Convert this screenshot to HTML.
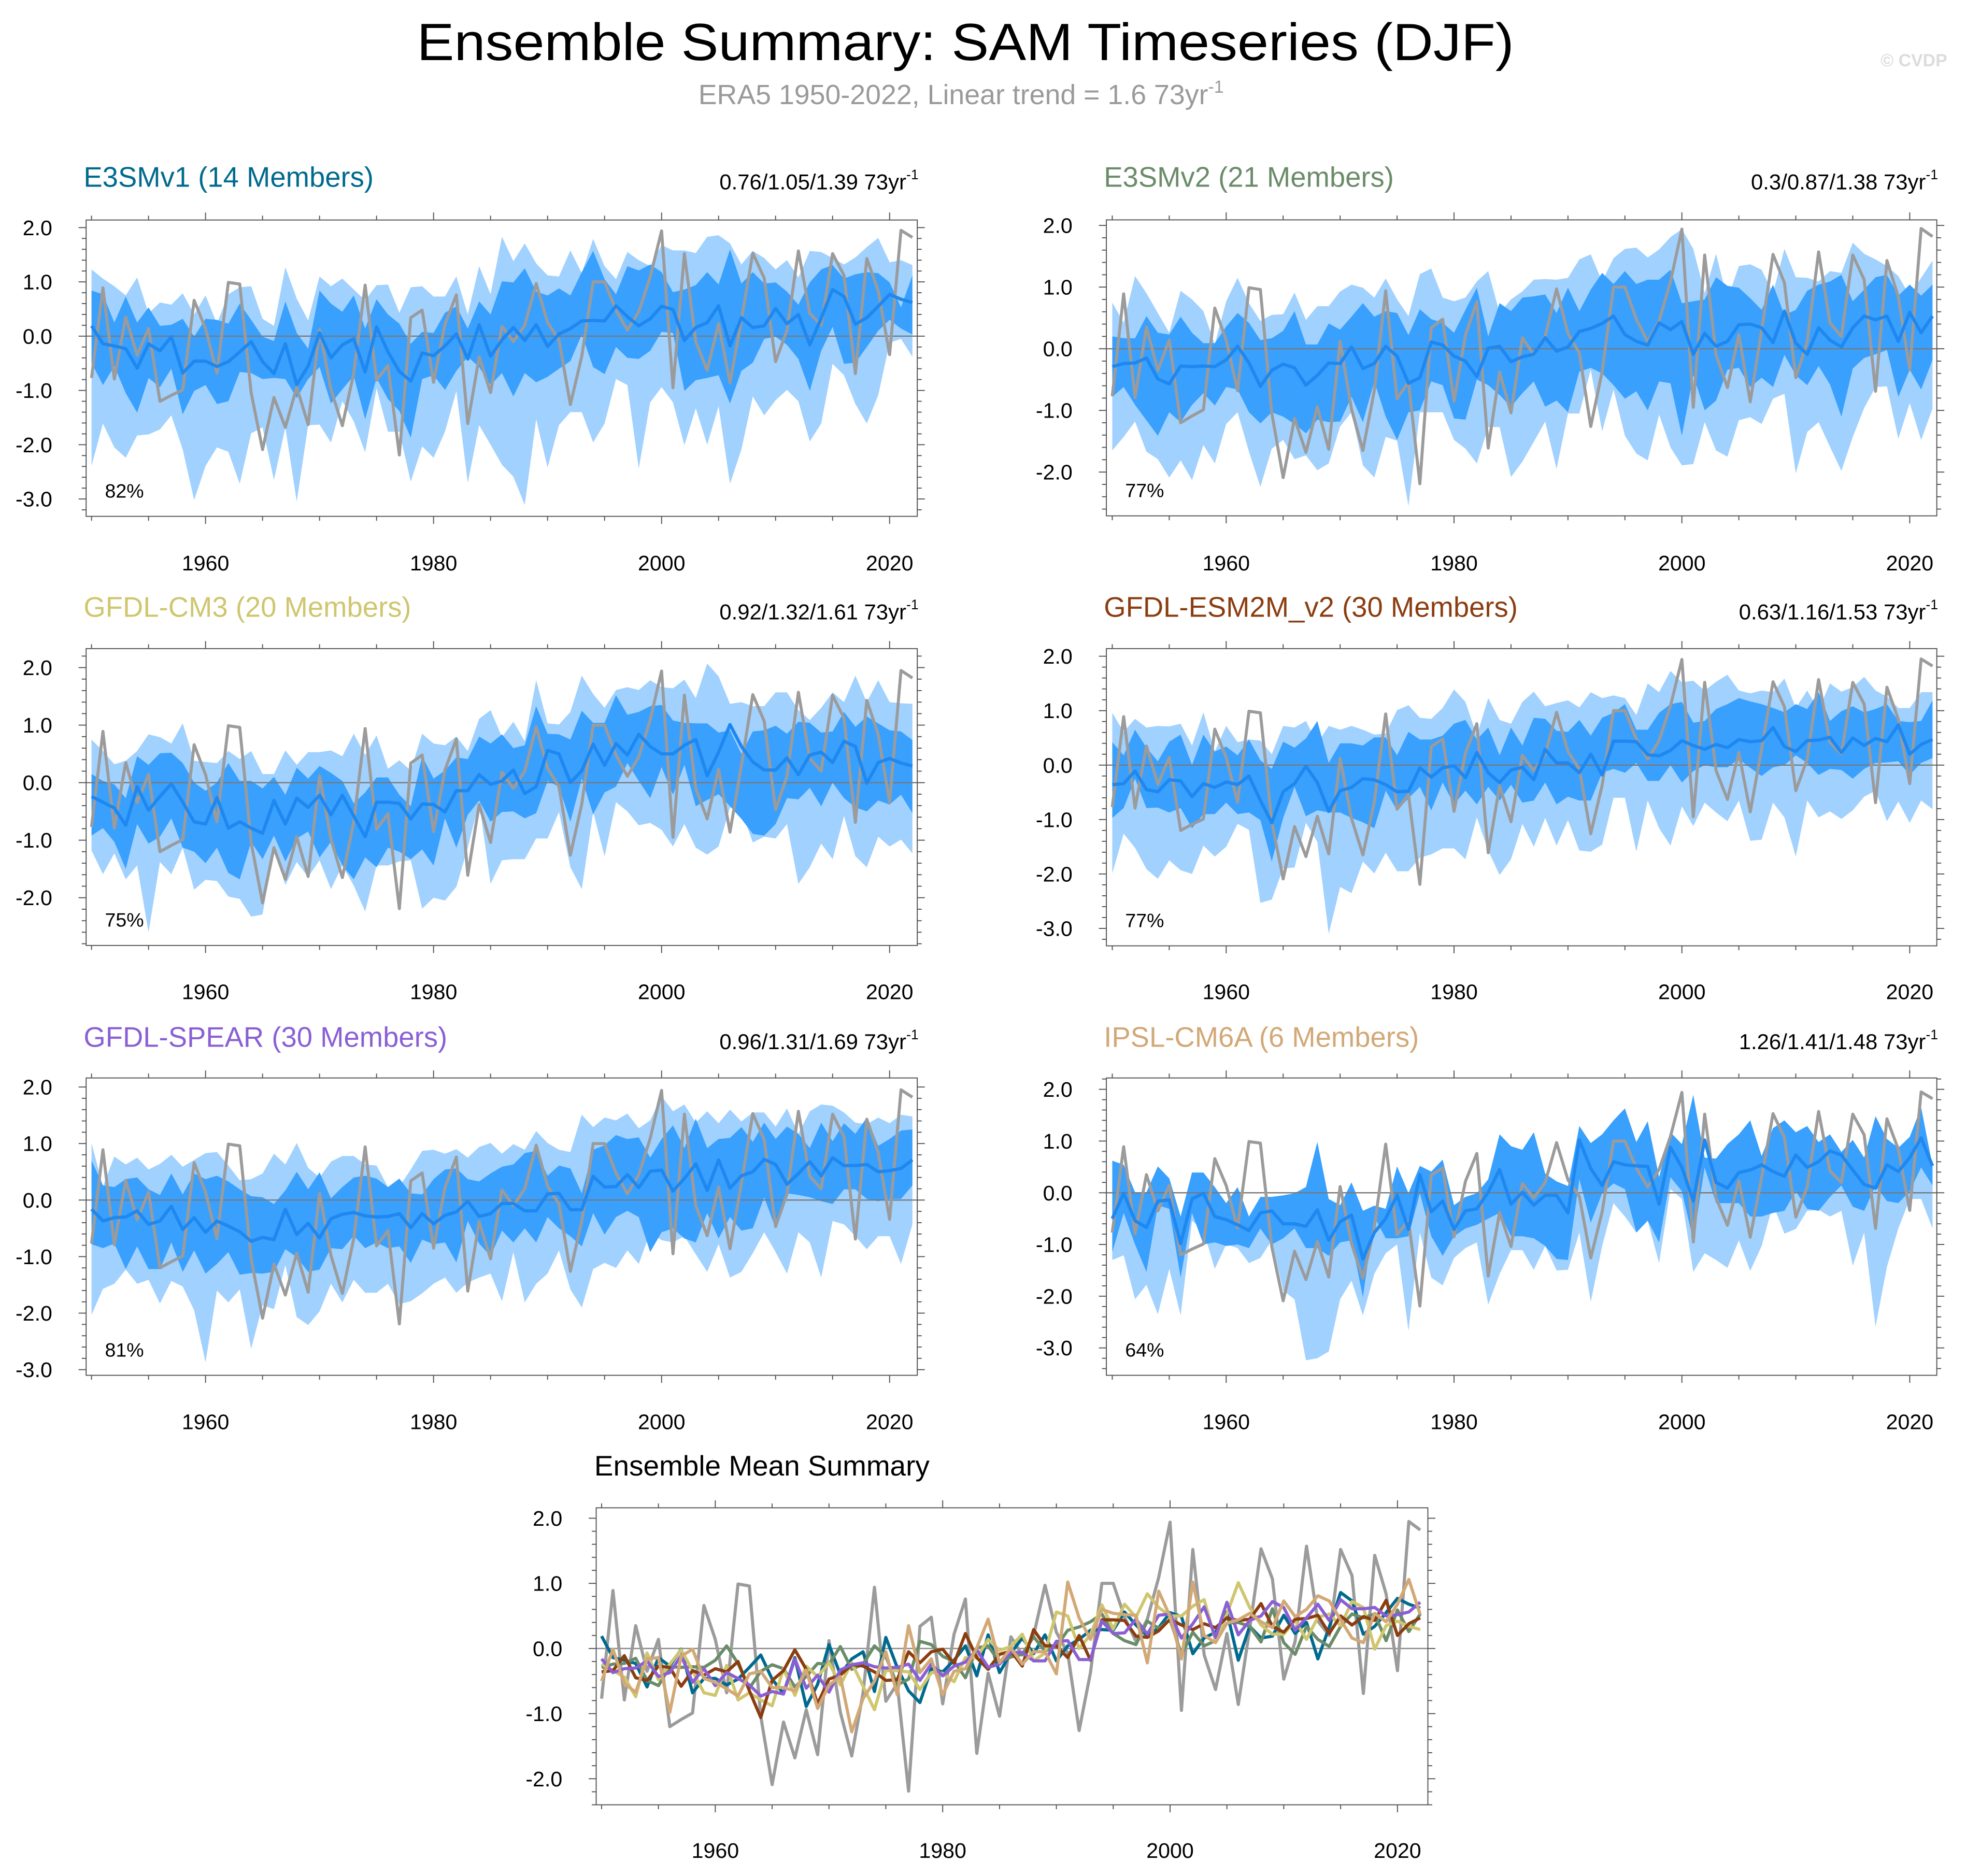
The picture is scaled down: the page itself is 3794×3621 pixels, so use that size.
<!DOCTYPE html>
<html><head><meta charset="utf-8"><title>Ensemble Summary: SAM Timeseries (DJF)</title>
<style>html,body{margin:0;padding:0;background:#fff}svg{display:block}text{font-family:"Liberation Sans",Arial,sans-serif}</style>
</head><body>
<svg id="chart" xmlns="http://www.w3.org/2000/svg" width="3794" height="3621" viewBox="0 0 1568 1496.5">
<rect x="0" y="0" width="1568" height="1496.5" fill="#fff"/>
<text x="770" y="48" font-size="42" text-anchor="middle" textLength="875" lengthAdjust="spacingAndGlyphs">Ensemble Summary: SAM Timeseries (DJF)</text>
<text x="557" y="83" font-size="22.2" fill="#9a9a9a">ERA5 1950-2022, Linear trend = 1.6 73yr<tspan font-size="14" dy="-9">-1</tspan></text>
<text x="1553" y="53" font-size="14" font-weight="bold" fill="#dcdcdc" text-anchor="end">© CVDP</text>
<g id="panels"></g>
</svg>
<script>
const years = Array.from({length:73},(_, i)=>1950+i);
const era5 = [-0.77,0.89,-0.79,0.35,-0.35,0.14,-1.2,-1.09,-0.99,0.66,0.14,-0.68,0.99,0.96,-1.04,-2.09,-1.13,-1.68,-0.94,-1.63,0.12,-0.98,-1.65,-0.68,0.94,-0.81,-0.54,-2.19,0.34,0.48,-0.85,0.22,0.76,-1.61,-0.38,-1.04,0.18,-0.1,0.2,0.97,0.25,-0.07,-1.26,-0.37,1.0,1.0,0.48,0.11,0.45,1.09,1.94,-0.95,1.52,-0.1,-0.63,0.23,-0.86,0.3,1.53,1.07,-0.47,0.11,1.57,0.42,0.2,1.52,1.12,-0.69,1.43,0.84,-0.34,1.95,1.82];

const e3smv1Mean = [0.19,-0.14,-0.18,-0.23,-0.59,-0.14,-0.27,-0.01,-0.68,-0.46,-0.46,-0.56,-0.47,-0.29,-0.10,-0.47,-0.69,-0.14,-0.89,-0.55,0.06,-0.40,-0.16,-0.05,-0.66,0.17,-0.29,-0.65,-0.83,-0.31,-0.36,-0.18,0.04,-0.42,0.21,-0.37,-0.07,0.16,-0.08,0.21,-0.19,0.04,0.14,0.28,0.29,0.28,0.56,0.36,0.19,0.32,0.55,0.49,-0.08,0.16,0.25,0.56,-0.18,0.34,0.16,0.19,0.51,0.23,0.40,-0.16,0.33,0.86,0.73,0.22,0.34,0.55,0.77,0.68,0.62];
const e3smv1OuterHi = [1.23,1.06,0.92,0.75,1.08,0.42,0.62,0.58,0.79,0.40,0.75,0.23,0.77,0.90,0.92,0.32,0.19,1.27,0.69,0.29,1.10,0.92,1.06,0.86,0.66,0.94,0.95,0.43,0.90,0.92,0.73,0.73,1.10,0.40,1.29,0.77,1.83,1.38,1.71,1.34,1.12,1.10,1.58,1.16,1.79,1.29,1.05,1.55,1.40,1.29,1.68,1.58,1.58,1.53,1.83,1.86,1.71,1.32,1.57,1.44,1.23,1.40,1.08,1.57,1.55,1.44,1.32,1.45,1.64,1.81,1.36,1.40,1.31];
const e3smv1InnerHi = [0.84,0.77,0.25,0.73,0.25,0.53,0.19,0.21,0.32,-0.01,0.32,0.30,0.23,0.60,0.30,-0.01,-0.09,0.64,0.06,-0.23,0.84,0.60,0.45,0.75,0.14,0.68,0.40,0.23,-0.14,0.08,0.06,0.43,0.55,0.14,0.64,0.40,1.01,0.99,1.25,0.82,0.75,0.88,0.75,1.18,1.57,1.05,0.77,1.29,1.21,1.32,1.18,0.81,0.86,0.94,1.18,0.95,1.60,0.97,1.18,0.97,0.99,0.82,0.58,0.99,1.23,1.31,1.06,1.14,1.18,1.16,0.99,0.53,1.12];
const e3smv1InnerLo = [-0.49,-0.90,-0.55,-1.05,-1.41,-0.77,-0.94,-0.60,-1.44,-1.01,-0.90,-1.25,-1.20,-0.66,-0.68,-0.79,-0.77,-0.79,-1.14,-0.79,-0.57,-1.24,-0.98,-0.73,-1.53,-0.77,-1.16,-1.38,-1.87,-0.79,-0.72,-0.99,-0.64,-0.38,-0.57,-0.90,-0.68,-1.11,-0.68,-0.85,-0.75,-0.60,-0.46,0.03,-0.57,-0.70,-0.20,-0.40,-0.42,-0.27,0.08,0.06,-1.01,-0.81,-0.77,-0.72,-1.24,-0.64,-0.49,-0.05,-0.01,-0.16,-0.42,-1.01,-0.27,0.17,-0.51,-0.49,-0.20,0.10,0.30,0.14,0.03];
const e3smv1OuterLo = [-2.39,-1.61,-2.05,-2.24,-1.83,-1.81,-1.72,-1.46,-2.09,-3.02,-2.39,-2.05,-2.13,-2.72,-1.79,-1.68,-2.65,-1.68,-3.05,-1.64,-1.63,-1.96,-1.20,-1.57,-2.14,-0.96,-1.76,-1.76,-2.68,-2.03,-2.24,-1.76,-1.01,-2.70,-1.64,-2.00,-2.37,-2.59,-3.11,-1.53,-2.42,-1.64,-1.40,-1.40,-1.96,-1.61,-0.79,-0.90,-2.44,-1.22,-0.94,-1.22,-2.01,-1.33,-2.00,-1.29,-2.72,-2.09,-1.11,-1.46,-1.18,-0.99,-1.20,-1.94,-1.61,-0.51,-0.72,-1.25,-1.61,-1.09,-0.12,-0.05,-0.38];

const e3smv2Mean = [-0.29,-0.24,-0.23,-0.15,-0.49,-0.57,-0.28,-0.29,-0.28,-0.29,-0.18,0.04,-0.23,-0.61,-0.35,-0.25,-0.31,-0.59,-0.43,-0.23,-0.24,0.03,-0.32,-0.24,0.04,-0.12,-0.56,-0.47,0.11,0.06,-0.12,-0.20,-0.45,0.01,0.04,-0.21,-0.13,-0.09,0.18,-0.04,0.03,0.28,0.33,0.41,0.53,0.23,0.12,0.06,0.42,0.31,0.44,-0.09,0.25,0.04,0.12,0.39,0.40,0.34,0.10,0.61,0.09,-0.09,0.34,0.14,0.03,0.34,0.53,0.47,0.53,0.12,0.59,0.26,0.53];
const e3smv2OuterHi = [0.75,0.42,1.18,0.90,0.58,0.26,0.94,0.80,0.61,0.07,0.77,1.15,0.74,0.45,0.55,0.56,0.91,0.47,0.69,0.69,0.93,1.04,0.99,0.83,1.14,0.80,0.53,1.21,1.30,0.83,0.77,0.83,1.09,1.26,0.58,0.80,0.93,1.12,1.13,1.12,1.15,1.45,1.53,1.09,1.47,1.62,1.64,1.48,1.61,1.81,1.94,1.62,0.90,1.54,0.80,1.34,1.37,1.28,0.90,1.62,1.16,1.15,1.09,1.26,1.23,1.72,1.54,1.45,1.34,1.18,0.86,1.15,1.43];
const e3smv2InnerHi = [0.20,0.17,0.17,0.53,0.26,0.23,0.52,0.26,0.09,0.09,0.36,0.58,0.42,0.14,0.17,0.29,0.61,0.07,0.07,0.41,0.31,0.52,0.74,0.52,0.61,0.58,0.22,0.64,0.48,0.42,0.26,0.63,0.99,0.20,0.74,0.61,0.83,0.85,0.88,0.58,0.99,0.61,0.96,1.23,1.05,1.26,1.05,1.12,1.12,1.28,0.74,0.77,0.80,1.16,1.02,0.99,0.82,0.63,1.04,0.55,0.63,0.94,1.04,1.09,1.20,0.77,0.96,1.16,1.20,0.86,1.04,0.86,1.04];
const e3smv2InnerLo = [-0.78,-0.62,-0.91,-1.16,-1.41,-1.03,-1.19,-0.91,-0.72,-0.92,-0.62,-0.66,-1.03,-1.21,-1.03,-1.10,-1.22,-1.37,-1.15,-1.19,-1.18,-0.78,-1.19,-0.53,-1.10,-1.48,-1.03,-1.00,-0.53,-0.59,-1.13,-1.15,-0.50,-0.59,-0.75,-0.94,-0.72,-0.53,-0.94,-0.84,-1.03,-0.37,-0.31,-0.40,-0.59,-0.81,-0.69,-1.00,-0.53,-0.56,-1.41,-0.43,-1.00,-0.84,-0.34,-0.31,-0.62,-0.47,-0.62,-0.10,-0.43,-0.59,-0.28,-0.58,-1.10,-0.32,-0.15,-0.09,-0.02,-0.78,-0.34,-0.66,-0.18];
const e3smv2OuterLo = [-1.65,-1.43,-1.18,-1.67,-1.79,-2.09,-1.81,-2.13,-1.56,-1.86,-1.22,-1.03,-1.67,-2.24,-1.62,-1.48,-1.79,-1.73,-1.97,-1.86,-1.26,-1.03,-1.89,-2.09,-1.43,-1.49,-2.55,-1.03,-1.03,-1.03,-1.48,-1.62,-1.86,-1.27,-1.27,-2.08,-1.83,-1.51,-1.18,-1.95,-1.05,-1.05,-0.34,-1.34,-0.66,-1.41,-1.70,-1.81,-1.07,-1.60,-1.89,-1.87,-1.19,-1.65,-1.75,-1.16,-1.11,-1.22,-0.81,-0.73,-2.02,-1.35,-1.19,-1.59,-1.98,-1.43,-0.96,-0.62,-0.61,-1.46,-0.88,-1.48,-0.97];

const cm3Mean = [-0.24,-0.34,-0.44,-0.74,-0.07,-0.48,-0.24,-0.02,-0.34,-0.68,-0.72,-0.26,-0.79,-0.68,-0.79,-0.88,-0.31,-0.72,-0.27,-0.43,-0.22,-0.56,-0.22,-0.58,-0.94,-0.34,-0.34,-0.36,-0.63,-0.37,-0.38,-0.51,-0.14,-0.14,0.14,-0.03,0.03,0.22,-0.19,-0.07,0.56,0.50,0.00,0.21,0.67,0.30,0.68,0.48,0.84,0.63,0.50,0.50,0.65,0.75,0.12,0.53,1.01,0.63,0.36,0.22,0.22,0.43,0.14,0.48,0.53,0.35,0.72,0.63,-0.01,0.35,0.42,0.34,0.29];
const cm3OuterHi = [0.75,0.55,0.32,0.38,0.55,0.84,0.79,0.68,1.03,0.38,0.36,0.34,0.55,0.41,0.55,0.15,0.15,0.56,0.31,0.53,0.53,0.56,0.46,0.85,0.48,0.82,0.24,0.39,0.21,0.85,0.68,0.65,0.80,0.55,1.11,1.26,0.79,1.06,0.72,1.78,1.03,1.01,1.23,1.86,1.54,1.30,1.61,1.66,1.61,1.78,1.66,1.64,1.79,1.47,2.07,1.85,1.37,1.40,1.33,1.33,1.57,1.57,1.26,1.09,1.30,1.57,1.40,1.86,1.40,1.78,1.40,1.38,1.37];
const cm3InnerHi = [0.15,0.03,-0.03,-0.27,0.46,0.31,0.51,0.52,0.34,0.00,-0.14,0.00,0.34,0.03,0.03,-0.10,0.10,-0.21,0.26,0.07,0.29,0.17,0.03,-0.36,-0.17,0.09,0.09,-0.21,-0.41,0.46,0.07,0.21,0.44,0.41,0.80,0.68,0.84,0.60,0.65,1.33,0.85,0.84,0.75,1.25,1.04,1.04,1.52,1.18,1.23,1.33,1.35,1.08,1.04,1.03,1.03,0.87,0.91,0.50,0.89,0.91,0.99,0.85,1.06,1.04,0.87,0.89,1.23,0.97,1.15,1.03,0.91,0.89,0.74];
const cm3InnerLo = [-0.92,-0.79,-1.03,-1.50,-0.72,-1.06,-0.94,-0.62,-1.13,-1.20,-1.40,-1.13,-1.57,-1.68,-1.03,-1.33,-0.92,-1.37,-0.97,-0.85,-1.30,-1.03,-1.44,-1.68,-1.30,-1.47,-1.13,-1.20,-1.33,-1.16,-1.44,-0.62,-1.13,-0.56,-0.31,-0.68,-0.51,-0.50,-0.62,-0.53,0.03,-0.07,-0.68,0.07,-0.55,-0.17,-0.07,0.34,0.03,-0.27,0.27,-0.21,0.31,-0.41,-0.30,-0.20,-0.41,-0.63,-0.89,-0.92,-0.72,-0.27,-0.29,-0.09,-0.41,0.00,-0.27,-0.43,-0.50,-0.31,-0.38,-0.21,-0.53];
const cm3OuterLo = [-1.18,-1.59,-1.23,-1.68,-1.44,-2.60,-1.38,-1.59,-1.13,-1.86,-1.69,-1.71,-1.98,-2.02,-2.33,-2.29,-1.13,-1.78,-1.38,-1.64,-1.35,-1.85,-1.44,-1.79,-2.24,-1.44,-1.44,-1.37,-1.35,-2.19,-2.00,-2.05,-1.81,-1.13,-0.34,-1.76,-1.35,-1.33,-1.33,-0.97,-0.97,-0.51,-1.47,-1.85,-0.51,-1.28,-0.34,-0.50,-0.74,-0.70,-0.82,-1.11,-0.72,-1.13,-1.25,-1.11,-0.43,-0.48,-1.04,-0.94,-0.97,-0.72,-1.76,-1.47,-1.06,-1.33,-0.58,-1.28,-1.47,-0.94,-1.11,-0.99,-1.23];

const esm2mMean = [-0.36,-0.34,-0.11,-0.45,-0.49,-0.27,-0.29,-0.58,-0.34,-0.41,-0.31,-0.36,-0.20,-0.65,-1.06,-0.49,-0.34,-0.02,-0.32,-0.85,-0.47,-0.41,-0.25,-0.27,-0.36,-0.49,-0.48,-0.05,-0.22,-0.05,-0.01,-0.23,0.23,-0.14,-0.32,-0.09,-0.04,-0.27,0.29,0.04,0.04,-0.14,0.20,-0.18,0.44,0.44,0.43,0.19,0.17,0.27,0.45,0.36,0.29,0.38,0.32,0.47,0.43,0.45,0.69,0.34,0.25,0.45,0.46,0.51,0.23,0.50,0.36,0.49,0.43,0.74,0.20,0.38,0.47];
const esm2mOuterHi = [0.96,0.61,0.85,0.69,0.72,0.71,0.76,0.36,0.97,0.25,0.72,0.42,0.47,0.45,0.20,0.72,0.69,0.81,0.40,0.72,0.65,0.72,0.65,0.56,0.58,1.01,1.10,0.87,0.85,1.05,1.39,1.16,0.54,1.23,0.83,0.76,1.16,1.35,1.08,1.14,1.19,1.06,1.34,1.23,1.28,1.23,0.92,1.50,1.34,1.73,1.52,1.55,1.37,1.53,1.66,1.37,1.32,1.37,1.34,1.59,1.05,1.37,1.01,1.50,1.35,1.43,1.62,1.37,1.26,1.05,1.05,1.34,1.34];
const esm2mInnerHi = [0.42,0.18,0.65,0.32,0.07,0.43,0.56,0.00,0.56,0.25,0.34,0.18,0.47,0.09,-0.07,0.43,0.32,0.49,0.81,0.04,0.40,0.40,0.36,0.51,0.51,0.18,0.61,0.47,0.47,0.54,0.76,0.83,0.47,0.69,0.18,0.69,0.36,0.87,0.85,0.63,0.61,0.83,0.54,0.87,0.96,1.12,0.65,0.65,0.96,1.12,1.16,0.78,0.81,1.03,1.12,1.23,1.17,1.12,1.05,0.97,1.12,1.03,1.34,0.81,0.99,1.08,0.97,1.03,1.12,0.81,0.79,0.81,1.19];
const esm2mInnerLo = [-0.97,-0.79,-0.25,-0.79,-0.78,-0.87,-0.79,-1.16,-0.90,-0.90,-0.69,-0.90,-0.87,-1.01,-1.77,-0.97,-0.40,-0.94,-0.83,-0.87,-0.87,-0.97,-1.05,-1.16,-0.47,-0.83,-0.61,-0.40,-0.83,-0.32,-0.72,-0.47,-0.72,-0.40,-0.65,-0.36,-0.69,-0.65,-0.32,-0.72,-0.58,-0.65,-0.65,-0.14,-0.07,-0.14,0.04,-0.29,-0.29,0.00,-0.32,-0.11,0.00,-0.04,-0.04,0.11,-0.05,-0.20,-0.04,0.00,0.18,0.04,-0.18,-0.07,-0.09,-0.25,-0.07,0.04,0.05,0.07,-0.18,0.04,0.13];
const esm2mOuterLo = [-1.99,-1.26,-1.52,-1.91,-2.09,-1.75,-1.93,-2.00,-1.48,-1.68,-1.50,-1.08,-1.19,-2.53,-2.47,-1.90,-1.88,-1.06,-1.41,-3.10,-2.24,-2.35,-1.77,-1.99,-1.61,-1.95,-1.95,-1.70,-1.64,-1.53,-1.53,-1.73,-0.96,-1.57,-2.02,-1.73,-1.08,-1.50,-0.97,-1.48,-1.01,-1.57,-1.59,-1.46,-0.60,-0.60,-1.59,-0.65,-1.16,-1.48,-0.76,-1.12,-0.69,-0.87,-1.03,-0.65,-1.39,-1.37,-0.69,-0.96,-1.68,-0.65,-0.96,-0.85,-0.99,-0.83,-0.58,-0.47,-1.03,-0.67,-1.06,-0.65,-0.81];

const spearMean = [-0.16,-0.37,-0.31,-0.30,-0.19,-0.43,-0.37,-0.11,-0.52,-0.31,-0.57,-0.37,-0.46,-0.56,-0.73,-0.66,-0.70,-0.16,-0.61,-0.41,-0.67,-0.33,-0.25,-0.22,-0.28,-0.30,-0.29,-0.24,-0.49,-0.24,-0.42,-0.27,-0.21,-0.02,-0.29,-0.24,-0.06,-0.06,-0.19,-0.19,0.11,0.12,-0.17,-0.17,0.42,0.23,0.24,0.45,0.22,0.51,0.53,0.16,0.38,0.64,0.17,0.71,0.21,0.43,0.50,0.72,0.63,0.28,0.47,0.68,0.43,0.75,0.61,0.61,0.63,0.50,0.52,0.56,0.71];
const spearOuterHi = [1.01,0.24,0.77,0.63,0.75,0.54,0.64,0.80,0.59,0.71,0.83,0.85,0.61,0.35,0.37,0.47,0.82,0.63,1.01,0.57,0.40,0.68,0.78,0.78,0.63,0.61,0.23,0.24,0.54,0.87,0.89,0.82,0.90,0.75,0.94,1.01,0.82,0.99,0.89,1.22,1.01,0.89,0.85,1.51,1.29,1.46,1.41,1.53,1.27,1.41,1.84,1.57,1.69,1.37,1.57,1.36,1.60,1.39,1.55,1.55,1.30,1.62,1.17,1.57,1.69,1.67,1.55,1.37,1.34,1.46,1.36,1.51,1.48];
const spearInnerHi = [0.70,0.26,0.23,0.37,0.40,0.19,0.09,0.47,0.10,0.47,0.37,0.43,0.33,0.19,0.07,0.05,-0.07,0.17,0.50,0.19,0.49,0.03,0.23,0.40,0.43,0.38,0.23,0.38,0.12,0.10,0.37,0.54,0.56,0.37,0.33,0.47,0.59,0.63,0.83,0.87,0.43,0.61,0.56,0.12,0.89,0.97,1.15,1.08,1.11,0.75,1.08,1.32,0.92,1.44,0.92,1.08,1.10,1.29,1.03,1.37,1.08,1.30,1.17,0.92,1.37,1.04,1.36,1.17,1.46,0.96,1.08,1.23,1.25];
const spearInnerLo = [-0.78,-0.85,-0.77,-1.22,-0.82,-1.22,-1.22,-0.75,-1.27,-0.89,-1.30,-1.13,-0.92,-1.32,-1.29,-1.30,-1.27,-0.87,-1.01,-1.27,-1.23,-0.85,-0.87,-0.63,-0.85,-0.75,-0.85,-0.82,-1.11,-0.70,-0.78,-0.75,-1.10,-0.37,-0.77,-0.99,-0.54,-0.75,-0.50,-0.75,-0.30,-0.50,-0.64,-0.82,-0.23,-0.61,-0.30,-0.19,-0.30,-0.92,-0.57,-0.50,-0.68,-0.75,-0.23,-0.68,-0.30,-0.54,-0.50,0.05,-0.50,0.12,0.09,0.05,-0.02,-0.07,0.19,0.19,0.02,-0.02,0.02,0.02,0.26];
const spearOuterLo = [-2.03,-1.57,-1.48,-1.23,-1.48,-1.41,-1.83,-1.43,-1.53,-1.95,-2.87,-1.60,-1.81,-1.58,-2.63,-1.86,-1.93,-1.15,-2.07,-2.21,-1.97,-1.48,-1.81,-1.41,-1.64,-1.64,-1.48,-1.84,-1.79,-1.65,-1.48,-1.37,-1.64,-1.46,-1.37,-1.30,-1.79,-0.92,-1.81,-1.48,-1.30,-0.89,-1.58,-1.90,-1.22,-1.11,-1.20,-0.89,-1.13,-0.57,-0.71,-0.75,-0.64,-0.96,-1.27,-0.78,-1.37,-1.27,-0.94,-0.57,-0.92,-1.30,-0.57,-0.75,-1.37,-0.37,-0.43,-0.64,-0.87,-0.64,-0.64,-1.13,-0.43];

const ipslMean = [-0.50,-0.01,-0.54,-0.67,-0.16,-0.14,-0.98,-0.12,-0.01,-0.46,-0.52,-0.62,-0.73,-0.39,-0.35,-0.60,-0.60,-0.65,-0.33,-0.92,-0.56,-0.43,-1.28,-0.77,-0.50,-0.05,-0.71,0.35,-0.37,-0.16,-0.71,-0.35,-0.31,0.01,0.45,-0.22,0.01,-0.24,-0.05,-0.05,-0.39,1.02,0.47,0.14,0.60,0.54,0.52,0.51,-0.22,0.88,0.49,-0.16,1.02,0.20,0.09,0.39,0.44,0.54,0.41,0.32,0.73,0.49,0.60,0.81,0.73,0.44,0.16,0.09,0.54,0.41,0.68,1.06,0.52];
const ipslOuterHi = [0.62,0.54,0.01,0.01,0.51,0.28,-0.46,0.39,0.39,0.11,-0.20,0.11,-0.46,-0.08,-0.08,-0.05,-0.01,0.11,0.98,-0.12,-0.24,0.20,-0.35,-0.25,-0.31,0.51,-0.01,0.52,0.41,0.64,-0.24,-0.08,-0.01,0.26,1.13,0.90,0.83,1.17,0.37,0.22,0.13,1.29,0.96,1.13,1.40,1.63,0.98,1.38,0.30,1.17,0.94,1.89,0.68,0.66,0.94,1.13,1.40,0.71,1.25,1.40,1.17,1.29,0.98,1.13,0.79,1.02,0.68,1.48,1.04,0.87,1.08,1.65,0.52];
const ipslInnerHi = [0.62,0.54,0.01,0.01,0.51,0.28,-0.46,0.39,0.39,0.11,-0.20,0.11,-0.46,-0.08,-0.08,-0.05,-0.01,0.11,0.98,-0.12,-0.24,0.20,-0.35,-0.25,-0.31,0.51,-0.01,0.52,0.41,0.64,-0.24,-0.08,-0.01,0.26,1.13,0.90,0.83,1.17,0.37,0.22,0.13,1.29,0.96,1.13,1.40,1.63,0.98,1.38,0.30,1.17,0.94,1.89,0.68,0.66,0.94,1.13,1.40,0.71,1.25,1.40,1.17,1.29,0.98,1.13,0.79,1.02,0.68,1.48,1.04,0.87,1.08,1.65,0.52];
const ipslInnerLo = [-1.15,-0.39,-1.00,-1.53,-0.24,-0.31,-1.64,-0.39,-1.00,-0.96,-1.03,-1.00,-1.07,-0.69,-1.00,-0.88,-0.69,-1.07,-1.07,-1.22,-0.96,-0.92,-2.02,-0.46,-0.88,-0.88,-0.84,-0.01,-0.84,-1.22,-0.84,-0.69,-0.62,-0.50,-0.39,-0.84,-0.84,-0.88,-1.03,-1.28,-1.30,0.26,-0.58,-0.01,0.18,0.07,-0.77,-0.54,-0.96,0.30,0.03,-0.92,0.49,-0.20,-0.20,-0.20,-0.46,-0.46,-0.39,-0.35,0.03,-0.31,-0.35,-0.08,0.14,-0.27,-0.35,0.14,-0.16,-0.20,0.03,0.49,0.14];
const ipslOuterLo = [-1.30,-1.21,-2.06,-1.78,-2.35,-1.47,-2.37,-0.54,-0.73,-1.47,-1.00,-1.07,-1.36,-1.26,-0.92,-1.89,-2.06,-3.24,-3.20,-3.07,-2.06,-1.70,-2.37,-1.57,-1.17,-1.00,-2.67,-0.77,-1.64,-1.79,-1.26,-1.07,-0.96,-2.16,-1.57,-1.11,-1.11,-1.49,-1.03,-1.50,-1.49,-0.77,-2.11,-1.03,-0.20,-0.46,-0.77,-0.54,-1.36,0.07,-0.12,-1.53,-1.17,-1.30,-1.45,-0.92,-1.51,-1.03,-0.22,-0.79,-0.70,-0.35,-0.33,-0.46,-0.35,-1.41,-0.77,-2.59,-1.43,-0.69,-0.12,-0.12,-0.69];

const panelTitles = ["E3SMv1 (14 Members)","E3SMv2 (21 Members)","GFDL-CM3 (20 Members)","GFDL-ESM2M_v2 (30 Members)","GFDL-SPEAR (30 Members)","IPSL-CM6A (6 Members)"];
const trendLabels = ["0.76/1.05/1.39 73yr","0.3/0.87/1.38 73yr","0.92/1.32/1.61 73yr","0.63/1.16/1.53 73yr","0.96/1.31/1.69 73yr","1.26/1.41/1.48 73yr"];
const pctLabels = ["82%","77%","75%","77%","81%","64%"];
const xTickLabels = [1960,1980,2000,2020];

const NS = "http://www.w3.org/2000/svg";
const root = document.getElementById('panels');
function mk(tag, attrs, parent){const e=document.createElementNS(NS,tag);for(const k in attrs)e.setAttribute(k,attrs[k]);(parent||root).appendChild(e);return e;}

const panelColors = ["#006a8e","#6a8c69","#cfc66e","#8b3d10","#8a5fd5","#d2a877"];
const seriesSets = [
 [e3smv1Mean,e3smv1OuterHi,e3smv1InnerHi,e3smv1InnerLo,e3smv1OuterLo],
 [e3smv2Mean,e3smv2OuterHi,e3smv2InnerHi,e3smv2InnerLo,e3smv2OuterLo],
 [cm3Mean,cm3OuterHi,cm3InnerHi,cm3InnerLo,cm3OuterLo],
 [esm2mMean,esm2mOuterHi,esm2mInnerHi,esm2mInnerLo,esm2mOuterLo],
 [spearMean,spearOuterHi,spearInnerHi,spearInnerLo,spearOuterLo],
 [ipslMean,ipslOuterHi,ipslInnerHi,ipslInnerLo,ipslOuterLo]
];
const L={l:68.7,r:731.6,x0:73.0,ppy:9.093}, R={l:882.4,r:1544.7,x0:887.1,ppy:9.086};
const layouts = [
 {h:L,t:175.5,b:411.9,vt:2.14,vb:-3.32,ty:149,xl:455},
 {h:R,t:175.4,b:411.5,vt:2.09,vb:-2.71,ty:149,xl:455},
 {h:L,t:517.4,b:754.2,vt:2.33,vb:-2.83,ty:492,xl:797},
 {h:R,t:517.4,b:754.5,vt:2.14,vb:-3.32,ty:492,xl:797},
 {h:L,t:859.9,b:1097.1,vt:2.16,vb:-3.10,ty:835,xl:1140},
 {h:R,t:859.9,b:1097.1,vt:2.22,vb:-3.53,ty:835,xl:1140}
];
const bottomLayout = {h:{l:475.5,r:1138.8,x0:479.8,ppy:9.068},t:1202.8,b:1439.7,vt:2.16,vb:-2.40,xl:1482};

function axes(lay){
 const X=yr=>lay.h.x0+(yr-1950)*lay.h.ppy;
 const Y=v=>lay.t+(lay.vt-v)/(lay.vt-lay.vb)*(lay.b-lay.t);
 return {X,Y};
}
function linePts(arr,X,Y){return arr.map((v,i)=>X(years[i]).toFixed(2)+','+Y(v).toFixed(2)).join(' ');}
function bandPts(hi,lo,X,Y){
 const a=hi.map((v,i)=>X(years[i]).toFixed(2)+','+Y(v).toFixed(2));
 const b=lo.map((v,i)=>X(years[i]).toFixed(2)+','+Y(v).toFixed(2)).reverse();
 return a.concat(b).join(' ');
}
function frame(g,lay,idx){
 const {X,Y}=axes(lay);
 const cid='clip'+idx;
 const cp=mk('clipPath',{id:cid},g);
 mk('rect',{x:lay.h.l,y:lay.t,width:lay.h.r-lay.h.l,height:lay.b-lay.t},cp);
 const plot=mk('g',{'clip-path':'url(#'+cid+')'},g);
 
 
 const tk=mk('g',{stroke:'#555','stroke-width':'0.8'},g);
 
 
 for(let yr=1950; yr<=2020; yr+=5){
  const major = xTickLabels.includes(yr);
  const len = major?6:3.5; const x=X(yr);
  mk('line',{x1:x,x2:x,y1:lay.b,y2:lay.b+len},tk);
  mk('line',{x1:x,x2:x,y1:lay.t,y2:lay.t-len},tk);
 }
 const lo=Math.ceil(lay.vb*5), hi=Math.floor(lay.vt*5);
 for(let k=lo;k<=hi;k++){
  const v=k/5; const major=(k%5===0); const len=major?6:3.5; const y=Y(v);
  mk('line',{x1:lay.h.l-len,x2:lay.h.l,y1:y,y2:y},tk);
  mk('line',{x1:lay.h.r,x2:lay.h.r+len,y1:y,y2:y},tk);
  if(major){
   const t=mk('text',{x:lay.h.l-27,y:y+6,'font-size':17,'text-anchor':'end',fill:'#000',stroke:'none'},g);
   t.textContent=v.toFixed(1);
   
   
  }
 }
 xTickLabels.forEach(yr=>{
  const t=mk('text',{x:X(yr),y:lay.xl,'font-size':17,'text-anchor':'middle'},g);
  t.textContent=yr;
  
  
 });
 return {plot,X,Y};
}

layouts.forEach((lay,p)=>{
 const g=mk('g',{});
 
 
 const {plot,X,Y}=frame(g,lay,p);
 const [mean,oHi,iHi,iLo,oLo]=seriesSets[p];
 const ob=mk('polygon',{points:bandPts(oHi,oLo,X,Y),fill:'#a1d1fe'},plot);
 
 
 const ib=mk('polygon',{points:bandPts(iHi,iLo,X,Y),fill:'#39a0fe'},plot);
 
 
 const z=mk('line',{x1:lay.h.l,x2:lay.h.r,y1:Y(0),y2:Y(0),stroke:'#7a7a7a','stroke-width':1},plot);
 
 
 const ol=mk('polyline',{points:linePts(era5,X,Y),fill:'none',stroke:'#9b9b9b','stroke-width':2.4,'stroke-linejoin':'round'},plot);
 
 
 const ml=mk('polyline',{points:linePts(mean,X,Y),fill:'none',stroke:'#1e88f0','stroke-width':2.6,'stroke-linejoin':'round'},plot);
 
 
 const bx=mk('rect',{x:lay.h.l,y:lay.t,width:lay.h.r-lay.h.l,height:lay.b-lay.t,fill:'none',stroke:'#555','stroke-width':0.8},g);
 
 
 const tt=mk('text',{x:lay.h.l-2,y:lay.ty,'font-size':22.5,fill:panelColors[p]},g);
 tt.textContent=panelTitles[p];
 
 
 const tr=mk('text',{x:lay.h.r+1,y:lay.ty+2,'font-size':17.3,'text-anchor':'end',fill:'#000'},g);
 tr.textContent=trendLabels[p];
 const sup=mk('tspan',{'font-size':11,dy:-8},tr);
 sup.textContent='-1';
 
 
 const pc=mk('text',{x:lay.h.l+15,y:lay.b-15,'font-size':15.5,fill:'#000'},g);
 pc.textContent=pctLabels[p];
 
 
});

(function(){
 const lay=bottomLayout;
 const g=mk('g',{});
 
 
 const {plot,X,Y}=frame(g,lay,'sum');
 const z=mk('line',{x1:lay.h.l,x2:lay.h.r,y1:Y(0),y2:Y(0),stroke:'#8a8a8a','stroke-width':1},plot);
 
 
 const ol=mk('polyline',{points:linePts(era5,X,Y),fill:'none',stroke:'#9b9b9b','stroke-width':2.5,'stroke-linejoin':'round'},plot);
 
 
 [0,1,2,3,4,5].forEach(p=>{
  const l=mk('polyline',{points:linePts(seriesSets[p][0],X,Y),fill:'none',stroke:panelColors[p],'stroke-width':2.5,'stroke-linejoin':'round'},plot);
  
  
 });
 const bx=mk('rect',{x:lay.h.l,y:lay.t,width:lay.h.r-lay.h.l,height:lay.b-lay.t,fill:'none',stroke:'#555','stroke-width':0.8},g);
 
 
 const tt=mk('text',{x:474,y:1177,'font-size':22.7,fill:'#000'},g);
 tt.textContent='Ensemble Mean Summary';
 
 
})();
</script>
</body></html>
